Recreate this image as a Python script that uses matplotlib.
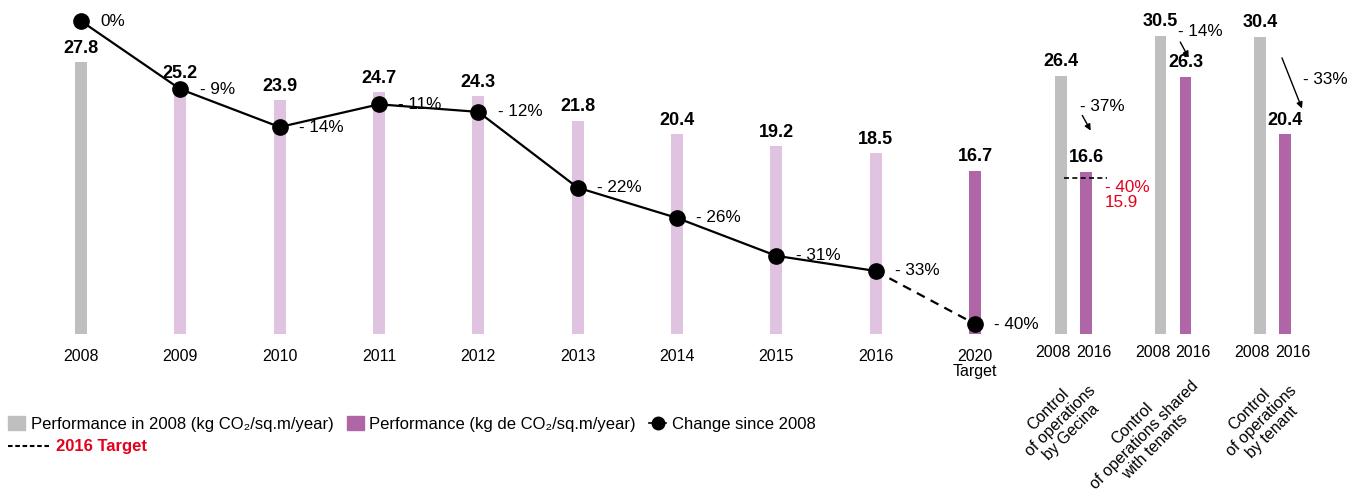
import numpy as np
import matplotlib.pyplot as plt
from matplotlib.patches import Patch
from matplotlib.lines import Line2D

plt.rcParams['font.family'] = ['Liberation Sans', 'DejaVu Sans']

# main chart data
years = ['2008', '2009', '2010', '2011', '2012', '2013', '2014', '2015', '2016', '2020\nTarget']
perf = [27.8, 25.2, 23.9, 24.7, 24.3, 21.8, 20.4, 19.2, 18.5, 16.7]
change = [0, -9, -14, -11, -12, -22, -26, -31, -33, -40]
change_labels = ['0%', '- 9%', '- 14%', '- 11%', '- 12%', '- 22%', '- 26%', '- 31%', '- 33%', '- 40%']

# right panels
groups = ['Control\nof operations\nby Gecina',
          'Control\nof operations shared\nwith tenants',
          'Control\nof operations\nby tenant']
perf_2008 = [26.4, 30.5, 30.4]
perf_2016 = [16.6, 26.3, 20.4]
group_change = ['- 37%', '- 14%', '- 33%']
target_gecina = 15.9

GRAY = '#bfbfbf'
LIGHT = '#e0c3e0'
PURPLE = '#b066a6'
RED = '#e3001b'

fig = plt.figure(figsize=(13.64, 5.03), dpi=100)
W, H = 1364, 503
bottom = (H - 334) / H

ax = fig.add_axes([31.3 / W, bottom, (1024.7 - 31.3) / W, 1 - bottom])
ax.patch.set_visible(False)
x = np.arange(len(years))
colors = [GRAY] + [LIGHT] * 8 + [PURPLE]
ax.bar(x, perf, width=0.12, color=colors)
ax.set_xlim(-0.5, 9.5)
ax.set_ylim(0, 334 / 9.78)
for xi, v in zip(x, perf):
    ax.annotate(f'{v}', (xi, v), xytext=(0, 4), textcoords='offset points',
                ha='center', va='bottom', fontsize=13, fontweight='bold')
ax.set_xticks(x)
ax.set_xticklabels(years, fontsize=11.5, linespacing=1.0)
ax.tick_params(length=0, pad=11)
ax.set_yticks([])
for s in ax.spines.values():
    s.set_visible(False)

ax2 = ax.twinx()
ax2.patch.set_visible(False)
ax2.set_ylim(-40 - 10 / 7.575, 21 / 7.575)
ax2.plot(x[:9], change[:9], color='black', lw=1.6, zorder=3)
ax2.plot(x[8:], change[8:], color='black', lw=1.6, ls=(0, (4, 3)), zorder=3)
ax2.plot(x, change, 'o', color='black', ms=11, zorder=4)
for xi, v, lab in zip(x, change, change_labels):
    ax2.annotate(lab, (xi, v), xytext=(14, 0), textcoords='offset points',
                 ha='left', va='center', fontsize=12.3)
ax2.set_yticks([])
for s in ax2.spines.values():
    s.set_visible(False)

# right side panels
axr = fig.add_axes([1024 / W, bottom, 340 / W, 1 - bottom])
axr.patch.set_visible(False)
gx = np.arange(len(groups))
off = 0.1256
axr.bar(gx - off, perf_2008, width=0.12, color=GRAY)
axr.bar(gx + off, perf_2016, width=0.12, color=PURPLE)
axr.set_xlim(-0.4975, 2.92)
axr.set_ylim(0, 334 / 9.78)
for gi in gx:
    axr.annotate(f'{perf_2008[gi]}', (gi - off, perf_2008[gi]), xytext=(0, 4),
                 textcoords='offset points', ha='center', va='bottom',
                 fontsize=13, fontweight='bold')
    axr.annotate(f'{perf_2016[gi]}', (gi + off, perf_2016[gi]), xytext=(0, 4),
                 textcoords='offset points', ha='center', va='bottom',
                 fontsize=13, fontweight='bold')
axr.set_xticks(np.concatenate([gx - 0.205, gx + 0.205]))
axr.set_xticklabels(['2008'] * 3 + ['2016'] * 3, fontsize=11.5)
axr.tick_params(length=0, pad=8)
axr.set_yticks([])
for s in axr.spines.values():
    s.set_visible(False)

# change arrows and labels
arrow = dict(arrowstyle='-|>', color='black', lw=1.0, mutation_scale=9)
axr.annotate('', xy=(0.186, 20.55), xytext=(0.075, 22.6), arrowprops=arrow)
axr.text(0.065, 23.3, group_change[0], fontsize=12.3, ha='left', va='center')
axr.annotate('', xy=(1.171, 28.0), xytext=(1.060, 30.1), arrowprops=arrow)
axr.text(1.05, 30.9, group_change[1], fontsize=12.3, ha='left', va='center')
axr.annotate('', xy=(2.307, 22.8), xytext=(2.085, 28.5), arrowprops=arrow)
axr.text(2.307, 26.0, group_change[2], fontsize=12.3, ha='left', va='center')

# 2016 target for Gecina
axr.plot([-0.095, 0.337], [target_gecina] * 2, color='black', lw=1.2, ls=(0, (3, 2)))
axr.text(0.317, 15.0, '- 40%', color=RED, fontsize=12.3, ha='left', va='center')
axr.text(0.317, 13.4, f'{target_gecina}', color=RED, fontsize=12.3, ha='left', va='center')

# rotated group labels
for (cx, cy), lab in zip([(1060, 421), (1144, 435), (1261, 421)], groups):
    fig.text(cx / W, 1 - cy / H, lab, rotation=45, ha='center', va='center',
             multialignment='center', fontsize=11.5, linespacing=1.1)

# legends
handles = [Patch(color=GRAY), Patch(color=PURPLE),
           Line2D([], [], color='black', marker='o', ms=9, lw=1.2)]
labels = ['Performance in 2008 (kg CO₂/sq.m/year)',
          'Performance (kg de CO₂/sq.m/year)',
          'Change since 2008']
fig.legend(handles, labels, loc='center left', bbox_to_anchor=(5 / W, 1 - 424 / H),
           ncol=3, frameon=False, fontsize=12, handlelength=1.0, handleheight=0.9,
           handletextpad=0.35, columnspacing=0.8, borderaxespad=0, borderpad=0.2)
leg2 = fig.legend([Line2D([], [], color='black', lw=1.5, ls=(0, (2.2, 1.3)))], ['2016 Target'],
                  loc='center left', bbox_to_anchor=(5 / W, 1 - 447 / H), frameon=False,
                  fontsize=12, handlelength=2.5, handletextpad=0.35, borderaxespad=0,
                  borderpad=0.2)
for t in leg2.get_texts():
    t.set_color(RED)
    t.set_fontweight('bold')

fig.savefig('out.png', dpi=100)
